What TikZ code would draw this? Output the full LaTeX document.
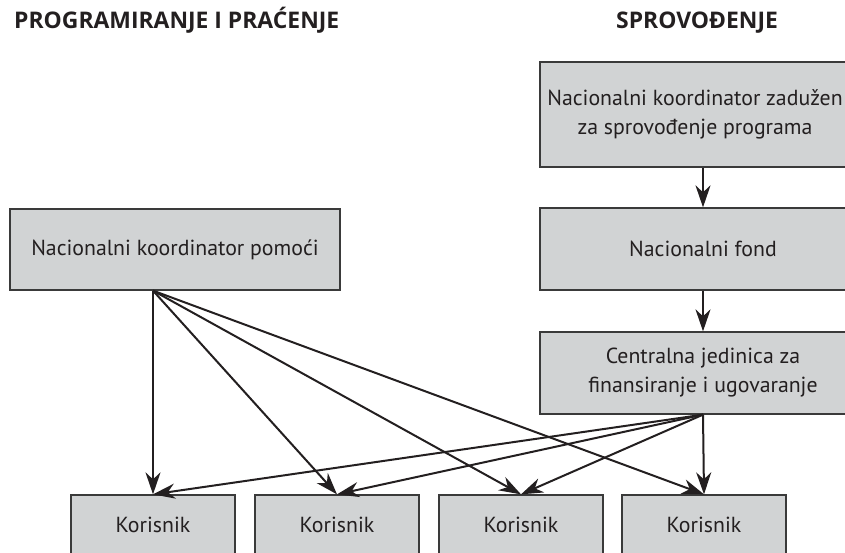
\documentclass[tikz,border=0pt]{standalone}
\usepackage{fontspec}
\setmainfont{PT Sans}
\newfontfamily\headfont{Open Sans}
\usetikzlibrary{arrows.meta,calc}
\definecolor{boxfill}{HTML}{D1D3D4}
\definecolor{ink}{HTML}{231F20}
\definecolor{rule}{HTML}{3A3A3A}
\tikzset{
  box/.style={draw=rule, line width=1.3bp, fill=boxfill, text=ink,
    rectangle, inner sep=0pt, align=center,
    font=\fontsize{21.8bp}{29bp}\selectfont},
  heading/.style={text=ink, inner sep=0pt, anchor=base west,
    font=\headfont\fontsize{22.9bp}{27bp}\selectfont\bfseries},
  arr/.style={draw=ink, line width=2bp,
    -{Stealth[length=22bp,width=15bp,inset=7bp]}},
}
\begin{document}
\begin{tikzpicture}[x=1bp,y=-1bp]
\useasboundingbox (0,0) rectangle (845,553);
\clip (0,0) rectangle (845,553);

% column headings
\node[heading] (hleft) at (14,29) {PROGRAMIRANJE I PRAĆENJE};
\node[heading] (hright) at (616,29) {SPROVOĐENJE};

% implementation chain
\node[box, minimum width=310bp, minimum height=105bp] (nkz) at (695,114.5)
  {Nacionalni koordinator zadužen\\za sprovođenje programa};
\node[box, minimum width=326bp, minimum height=82bp] (fond) at (703,249)
  {Nacionalni fond};
\node[box, minimum width=326bp, minimum height=82bp] (cfcu) at (703,373)
  {Centralna jedinica za\\finansiranje i ugovaranje};

% programming and monitoring
\node[box, minimum width=330bp, minimum height=81bp] (nkp) at (175,249.5)
  {Nacionalni koordinator pomoći};

% beneficiaries (boxes run past the lower edge)
\foreach \i/\x in {1/153, 2/337, 3/521, 4/704} {
  \node[box, minimum width=164bp, minimum height=90bp] (k\i) at (\x,540) {};
  \node[text=ink, inner sep=0pt, anchor=base,
        font=\fontsize{21.8bp}{29bp}\selectfont] (kt\i) at ($(k\i.north)+(0,38.5)$) {Korisnik};
}

% connector sources
\coordinate (ps) at ($(nkp.south)+(-22,0)$);
\coordinate (cs) at (cfcu.south);

% chain arrows
\draw[arr] (nkz.south -| fond.north) -- (fond.north);
\draw[arr] (fond.south) -- (cfcu.north);

% fan-out to beneficiaries
\foreach \i in {1,...,4} {
  \draw[arr] (ps) -- (k\i.north);
  \draw[arr] (cs) -- (k\i.north);
}
\end{tikzpicture}
\end{document}
